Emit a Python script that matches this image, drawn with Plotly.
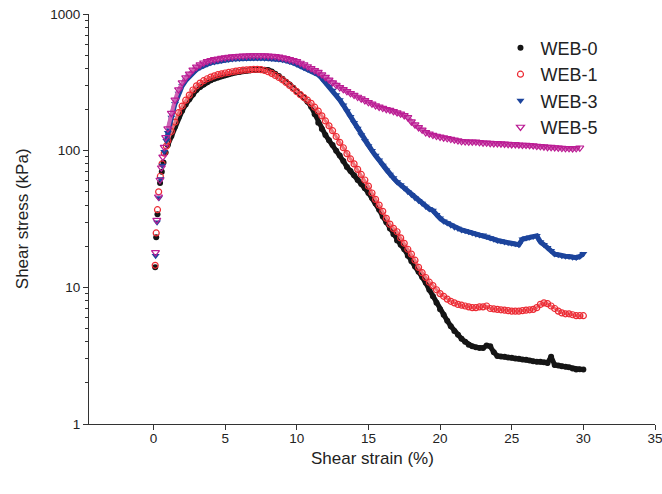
import plotly.graph_objects as go

# ---------------- data ----------------
web0_strain = [0.12, 0.19, 0.28, 0.46, 0.58, 0.7, 0.85, 1.0, 1.25, 1.5, 1.75, 2.0, 2.25, 2.5, 2.75, 3.0, 3.25, 3.5, 3.75, 4.0, 4.25, 4.5, 4.75, 5.0, 5.25, 5.5, 5.75, 6.0, 6.25, 6.5, 6.75, 7.0, 7.25, 7.5, 7.75, 8.0, 8.25, 8.5, 8.75, 9.0, 9.25, 9.5, 9.75, 10.0, 10.25, 10.5, 10.75, 11.0, 11.25, 11.5, 11.75, 12.0, 12.25, 12.5, 12.75, 13.0, 13.25, 13.5, 13.75, 14.0, 14.25, 14.5, 14.75, 15.0, 15.25, 15.5, 15.75, 16.0, 16.25, 16.5, 16.75, 17.0, 17.25, 17.5, 17.75, 18.0, 18.25, 18.5, 18.75, 19.0, 19.25, 19.5, 19.75, 20.0, 20.25, 20.5, 20.75, 21.0, 21.25, 21.5, 21.75, 22.0, 22.25, 22.5, 22.75, 23.0, 23.25, 23.5, 23.75, 24.0, 24.25, 24.5, 24.75, 25.0, 25.25, 25.5, 25.75, 26.0, 26.25, 26.5, 26.75, 27.0, 27.25, 27.5, 27.75, 28.0, 28.25, 28.5, 28.75, 29.0, 29.25, 29.5, 29.75, 30.0]
web0_stress = [14, 23.3, 34.3, 58, 70, 82, 97, 110, 128, 150, 175, 196, 218, 238, 258, 278, 292, 305, 317, 327, 336, 343, 350, 357, 363, 368, 373, 377, 381, 384, 387, 389, 391, 392, 391, 389, 380, 366, 352, 336, 320, 305, 289, 272, 258, 245, 228, 210, 185, 160, 144, 130, 119, 110, 100, 92, 84, 76, 71, 66, 61, 57, 53, 49, 45, 41, 37, 33, 30, 27, 24.5, 22, 20.5, 19, 17, 15.5, 14.2, 13, 11.9, 10.8, 9.6, 8.6, 7.7, 6.9, 6.3, 5.7, 5.2, 4.8, 4.5, 4.2, 4.0, 3.8, 3.7, 3.65, 3.6, 3.6, 3.75, 3.7, 3.35, 3.15, 3.12, 3.1, 3.07, 3.05, 3.02, 3.0, 2.97, 2.95, 2.92, 2.88, 2.86, 2.85, 2.83, 2.8, 3.1, 2.7, 2.68, 2.65, 2.62, 2.6, 2.55, 2.5, 2.52, 2.5]

web1_strain = [0.12, 0.19, 0.28, 0.36, 0.48, 0.6, 0.75, 0.9, 1.0, 1.25, 1.5, 1.75, 2.0, 2.25, 2.5, 2.75, 3.0, 3.25, 3.5, 3.75, 4.0, 4.25, 4.5, 4.75, 5.0, 5.25, 5.5, 5.75, 6.0, 6.25, 6.5, 6.75, 7.0, 7.25, 7.5, 7.75, 8.0, 8.25, 8.5, 8.75, 9.0, 9.25, 9.5, 9.75, 10.0, 10.25, 10.5, 10.75, 11.0, 11.25, 11.5, 11.75, 12.0, 12.25, 12.5, 12.75, 13.0, 13.25, 13.5, 13.75, 14.0, 14.25, 14.5, 14.75, 15.0, 15.25, 15.5, 15.75, 16.0, 16.25, 16.5, 16.75, 17.0, 17.25, 17.5, 17.75, 18.0, 18.25, 18.5, 18.75, 19.0, 19.25, 19.5, 19.75, 20.0, 20.25, 20.5, 20.75, 21.0, 21.25, 21.5, 21.75, 22.0, 22.25, 22.5, 22.75, 23.0, 23.25, 23.5, 23.75, 24.0, 24.25, 24.5, 24.75, 25.0, 25.25, 25.5, 25.75, 26.0, 26.25, 26.5, 26.75, 27.0, 27.25, 27.5, 27.75, 28.0, 28.25, 28.5, 28.75, 29.0, 29.25, 29.5, 29.75, 30.0]
web1_stress = [14.5, 25, 37, 50, 65, 80, 96, 108, 118, 138, 162, 190, 212, 234, 255, 278, 298, 312, 325, 336, 345, 353, 360, 365, 370, 374, 378, 382, 385, 388, 390, 392, 393, 394, 392, 386, 378, 368, 355, 343, 330, 315, 300, 285, 270, 257, 245, 234, 222, 208, 195, 180, 165, 152, 140, 127, 115, 105, 95, 87, 80, 73, 67, 61, 55, 49, 44, 40, 36, 32, 29, 27, 25.5, 23, 21, 19, 17.5, 15.8, 14, 12.8, 11.8, 10.9, 10.3, 9.6, 9.0, 8.6, 8.2, 7.9, 7.7, 7.5, 7.4, 7.3, 7.2, 7.1, 7.1, 7.2, 7.2, 7.3, 7.0, 6.95, 6.9, 6.85, 6.8, 6.75, 6.7, 6.7, 6.7, 6.75, 6.8, 6.85, 6.9, 7.1, 7.5, 7.7, 7.6, 7.3, 7.0, 6.7, 6.5, 6.4, 6.4, 6.3, 6.2, 6.2, 6.2]

web3_strain = [0.15, 0.25, 0.38, 0.5, 0.62, 0.75, 0.9, 1.0, 1.25, 1.5, 1.75, 2.0, 2.25, 2.5, 2.75, 3.0, 3.25, 3.5, 3.75, 4.0, 4.25, 4.5, 4.75, 5.0, 5.25, 5.5, 5.75, 6.0, 6.25, 6.5, 6.75, 7.0, 7.25, 7.5, 7.75, 8.0, 8.25, 8.5, 8.75, 9.0, 9.25, 9.5, 9.75, 10.0, 10.25, 10.5, 10.75, 11.0, 11.25, 11.5, 11.75, 12.0, 12.25, 12.5, 12.75, 13.0, 13.25, 13.5, 13.75, 14.0, 14.25, 14.5, 14.75, 15.0, 15.25, 15.5, 15.75, 16.0, 16.25, 16.5, 16.75, 17.0, 17.25, 17.5, 17.75, 18.0, 18.25, 18.5, 18.75, 19.0, 19.25, 19.5, 19.75, 20.0, 20.25, 20.5, 20.75, 21.0, 21.25, 21.5, 21.75, 22.0, 22.25, 22.5, 22.75, 23.0, 23.25, 23.5, 23.75, 24.0, 24.25, 24.5, 24.75, 25.0, 25.25, 25.5, 25.75, 26.0, 26.25, 26.5, 26.75, 27.0, 27.25, 27.5, 27.75, 28.0, 28.25, 28.5, 28.75, 29.0, 29.25, 29.5, 29.75, 30.0]
web3_stress = [17, 30, 45, 62, 78, 98, 118, 135, 175, 220, 262, 298, 326, 350, 372, 392, 407, 420, 431, 440, 446, 452, 457, 462, 465, 468, 470, 472, 474, 475, 476, 476, 476, 476, 475, 474, 472, 470, 466, 462, 456, 450, 440, 428, 417, 405, 395, 385, 373, 360, 338, 315, 295, 275, 255, 235, 215, 195, 177, 160, 145, 130, 118, 108, 100, 92, 85, 78, 72, 67, 63, 59, 56, 53, 50, 47.5, 45, 43, 41, 39, 37.5, 36.5, 34, 32, 30.5, 29.5, 28.5, 27.5, 27, 26.3, 25.9, 25.5, 25, 24.5, 24.2, 24, 23.5, 23, 22.5, 22, 21.8, 21.5, 21.2, 21, 20.8, 20.5, 22.5, 23, 23.3, 23.5, 23.8, 21.5, 20.5, 19.5, 18.5, 17.5, 17.3, 17, 16.9, 16.8, 16.6, 16.5, 16.8, 17.6]

web5_strain = [0.14, 0.23, 0.35, 0.45, 0.55, 0.65, 0.75, 0.85, 1.0, 1.25, 1.5, 1.75, 2.0, 2.25, 2.5, 2.75, 3.0, 3.25, 3.5, 3.75, 4.0, 4.25, 4.5, 4.75, 5.0, 5.25, 5.5, 5.75, 6.0, 6.25, 6.5, 6.75, 7.0, 7.25, 7.5, 7.75, 8.0, 8.25, 8.5, 8.75, 9.0, 9.25, 9.5, 9.75, 10.0, 10.25, 10.5, 10.75, 11.0, 11.25, 11.5, 11.75, 12.0, 12.25, 12.5, 12.75, 13.0, 13.25, 13.5, 13.75, 14.0, 14.25, 14.5, 14.75, 15.0, 15.25, 15.5, 15.75, 16.0, 16.25, 16.5, 16.75, 17.0, 17.25, 17.5, 17.75, 18.0, 18.25, 18.5, 18.75, 19.0, 19.25, 19.5, 19.75, 20.0, 20.25, 20.5, 20.75, 21.0, 21.25, 21.5, 21.75, 22.0, 22.25, 22.5, 22.75, 23.0, 23.25, 23.5, 23.75, 24.0, 24.25, 24.5, 24.75, 25.0, 25.25, 25.5, 25.75, 26.0, 26.25, 26.5, 26.75, 27.0, 27.25, 27.5, 27.75, 28.0, 28.25, 28.5, 28.75, 29.0, 29.25, 29.5, 29.75, 30.0]
web5_stress = [18, 31, 46, 61, 75, 90, 106, 125, 145, 188, 235, 280, 315, 342, 365, 390, 410, 426, 440, 450, 458, 465, 470, 476, 480, 484, 487, 490, 492, 494, 495, 496, 497, 497, 497, 496, 495, 493, 490, 485, 480, 473, 465, 458, 450, 438, 426, 413, 400, 387, 375, 360, 345, 330, 315, 302, 290, 281, 272, 263, 255, 247, 240, 233, 226, 220, 214, 209, 205, 201, 198, 194, 190, 186, 181, 175, 163, 155, 148, 142, 136, 133, 130, 128, 126, 124.5, 123, 121.5, 120, 118.5, 117, 116.5, 116, 116, 116, 115, 114, 114, 113.5, 113, 113, 112.5, 112, 111.5, 111, 111, 110.5, 110, 110, 109.5, 109, 108, 107.5, 107, 106, 106, 105.5, 105, 104.5, 104, 104, 103.5, 104, 105]

series_names = ["WEB-0", "WEB-1", "WEB-3", "WEB-5"]
x_tick_vals = [0, 5, 10, 15, 20, 25, 30, 35]
y_tick_vals = [1, 10, 100, 1000]
y_minor_vals = [m * d for d in (1, 10, 100) for m in range(2, 10)]

FONT = "Liberation Sans, Arial, sans-serif"
TXT = "#222222"

series = [
    (web0_strain, web0_stress, dict(symbol="circle", size=6, color="#151515", line=dict(width=0)), "#151515", 5),
    (web1_strain, web1_stress, dict(symbol="circle-open", size=6, color="#ec2a33", line=dict(width=1.2)), "#f0757b", 3),
    (web3_strain, web3_stress, dict(symbol="triangle-down", size=7, color="#1c449c", line=dict(width=0)), "#1c449c", 5),
    (web5_strain, web5_stress, dict(symbol="triangle-down-open", size=7, color="#bb1d94", line=dict(width=1.2)), "#cf62b4", 4),
]

fig = go.Figure()
for name, (xs, ys, mk, band_color, band_w) in zip(series_names, series):
    k = next(i for i, v in enumerate(xs) if v >= 0.9)
    # dense sampling band under the markers (the original data are very densely sampled)
    fig.add_trace(go.Scatter(x=xs[k:], y=ys[k:], mode="lines", showlegend=False, hoverinfo="skip",
                             line=dict(color=band_color, width=band_w)))
    fig.add_trace(go.Scatter(x=xs, y=ys, mode="markers", name=name, marker=mk))

axis_font = dict(family=FONT, size=13.5, color=TXT)
fig.update_layout(
    width=662, height=494,
    margin=dict(l=89, r=7, t=14, b=70),
    paper_bgcolor="white", plot_bgcolor="white",
    font=dict(family=FONT, color=TXT),
    showlegend=True,
    legend=dict(x=0.727, y=0.962, xanchor="left", yanchor="top",
                bgcolor="rgba(0,0,0,0)", font=dict(size=18, color=TXT, family=FONT),
                itemsizing="trace", tracegroupgap=0),
    xaxis=dict(range=[-4.5, 35], tickvals=x_tick_vals, ticks="outside", ticklen=5, tickwidth=1,
               tickcolor="#333", showline=True, linecolor="#333", linewidth=1, showgrid=False,
               zeroline=False, tickfont=axis_font, ticklabelstandoff=-3, ticklabeloverflow="allow",
               automargin=False),
    yaxis=dict(type="log", range=[0, 3], tickvals=y_tick_vals, ticktext=[str(v) for v in y_tick_vals],
               ticks="outside", ticklen=5, tickwidth=1, tickcolor="#333",
               showline=True, linecolor="#333", linewidth=1, showgrid=False, zeroline=False,
               tickfont=axis_font, ticklabeloverflow="allow", automargin=False,
               minor=dict(tickvals=y_minor_vals, ticks="outside", ticklen=3, tickcolor="#333", showgrid=False)),
    annotations=[
        dict(text="Shear strain (%)", xref="paper", yref="paper", x=0.5, y=-0.083,
             xanchor="center", yanchor="middle", showarrow=False, font=dict(size=17, color=TXT, family=FONT)),
        dict(text="Shear stress (kPa)", xref="paper", yref="paper", x=-0.118, y=0.5, textangle=-90,
             xanchor="center", yanchor="middle", showarrow=False, font=dict(size=17, color=TXT, family=FONT)),
    ],
)

fig.write_html("out.html", post_script="document.body.style.margin='0';",
               config={"displayModeBar": False})
